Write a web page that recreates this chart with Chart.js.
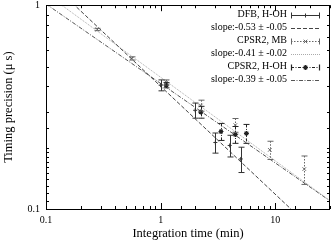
<!DOCTYPE html>
<html>
<head>
<meta charset="utf-8">
<script src="https://cdn.jsdelivr.net/npm/chart.js@4.4.0/dist/chart.umd.min.js"></script>
<style>
html, body { margin: 0; padding: 0; background: #fff; }
</style>
</head>
<body>
<canvas id="chart" width="331" height="242"></canvas>
<script>
const dfbTime = [1, 2, 3, 4, 5];
const dfbPrec = [0.405, 0.305, 0.212, 0.205, 0.176];
const dfbErr = [0.025, 0.026, 0.024, 0.025, 0.025];

const mbTime = [0.28, 0.56, 1.12, 2.24, 4.48, 8.96, 17.9];
const mbPrec = [0.76, 0.548, 0.418, 0.322, 0.258, 0.195, 0.157];
const mbErr = [0.01, 0.01, 0.012, 0.02, 0.02, 0.02, 0.025];

const hohTime = [1.12, 2.24, 3.36, 4.48, 5.6];
const hohPrec = [0.405, 0.299, 0.24, 0.232, 0.235];
const hohErr = [0.012, 0.02, 0.023, 0.022, 0.025];

// power-law fits: precision = amp * time^slope
const fitSlopes = [-0.53, -0.41, -0.39];
const fitAmps = [0.40, 0.443, 0.413];

const legendLabels = ['DFB, H-OH', 'slope:-0.53 \u00b1 -0.05', 'CPSR2, MB', 'slope:-0.41 \u00b1 -0.02', 'CPSR2, H-OH', 'slope:-0.39 \u00b1 -0.05'];

const xMin = 0.1, xMax = 30;
const serif = "'Liberation Serif', 'DejaVu Serif', serif";

function pts(xs, ys) {
    return xs.map((x, i) => ({ x: x, y: ys[i] }));
}
function fitLine(k) {
    return [xMin, xMax].map(x => ({ x: x, y: fitAmps[k] * Math.pow(x, fitSlopes[k]) }));
}
function isDecade(v) {
    const l = Math.log10(v);
    return Math.abs(l - Math.round(l)) < 1e-6;
}

const datasets = [
    { label: legendLabels[0], data: pts(dfbTime, dfbPrec), errors: dfbErr, barDash: [],
      showLine: false, pointStyle: 'cross', pointRadius: 2, borderColor: '#333', borderWidth: 1 },
    { label: legendLabels[1], data: fitLine(0), showLine: true, pointRadius: 0,
      borderColor: '#444', borderWidth: 1, borderDash: [4, 2] },
    { label: legendLabels[2], data: pts(mbTime, mbPrec), errors: mbErr, barDash: [1.5, 1.5],
      showLine: false, pointStyle: 'crossRot', pointRadius: 2.5, borderColor: '#666', borderWidth: 1 },
    { label: legendLabels[3], data: fitLine(1), showLine: true, pointRadius: 0,
      borderColor: '#aaa', borderWidth: 1, borderDash: [1, 1] },
    { label: legendLabels[4], data: pts(hohTime, hohPrec), errors: hohErr, barDash: [3, 1.5, 1, 1.5],
      showLine: false, pointStyle: 'star', pointRadius: 2.5, borderColor: '#222', borderWidth: 1.2 },
    { label: legendLabels[5], data: fitLine(2), showLine: true, pointRadius: 0,
      borderColor: '#555', borderWidth: 1, borderDash: [4, 1.5, 1, 1.5] }
];

// chart.js keeps a few px free on the right, the original plot runs to the edge
const stretchX = {
    id: 'stretchX',
    afterLayout(chart) {
        const s = chart.scales.x, a = chart.chartArea;
        const r = chart.width - 1;
        a.right = r;
        a.width = r - a.left;
        s.right = r;
        s.width = r - s.left;
        s.configure();
    }
};

// gnuplot style frame with inward ticks
const frameTicks = {
    id: 'frameTicks',
    afterDraw(chart) {
        const ctx = chart.ctx, a = chart.chartArea;
        const xs = chart.scales.x, ys = chart.scales.y;
        ctx.save();
        ctx.strokeStyle = '#000';
        ctx.lineWidth = 1;
        ctx.beginPath();
        xs.ticks.forEach(t => {
            const px = Math.round(xs.getPixelForValue(t.value)) + 0.5;
            const len = isDecade(t.value) ? 6 : 3;
            ctx.moveTo(px, a.bottom); ctx.lineTo(px, a.bottom - len);
            ctx.moveTo(px, a.top); ctx.lineTo(px, a.top + len);
        });
        ys.ticks.forEach(t => {
            const py = Math.round(ys.getPixelForValue(t.value)) + 0.5;
            const len = isDecade(t.value) ? 6 : 3;
            ctx.moveTo(a.left, py); ctx.lineTo(a.left + len, py);
            ctx.moveTo(a.right, py); ctx.lineTo(a.right - len, py);
        });
        ctx.stroke();
        ctx.strokeRect(Math.round(a.left) + 0.5, Math.round(a.top) + 0.5,
            Math.round(a.right - a.left) - 1, Math.round(a.bottom - a.top));
        ctx.restore();
    }
};

function drawSample(ctx, ds, x0, x1, y) {
    ctx.strokeStyle = ds.borderColor;
    ctx.lineWidth = ds.borderWidth;
    ctx.setLineDash(ds.errors ? ds.barDash : ds.borderDash);
    ctx.beginPath();
    ctx.moveTo(x0, y); ctx.lineTo(x1, y);
    ctx.stroke();
    if (ds.errors) {
        ctx.setLineDash([]);
        ctx.beginPath();
        ctx.moveTo(x0 + 0.5, y - 3); ctx.lineTo(x0 + 0.5, y + 3);
        ctx.moveTo(x1 - 0.5, y - 3); ctx.lineTo(x1 - 0.5, y + 3);
        ctx.stroke();
        Chart.helpers.drawPoint(ctx, { pointStyle: ds.pointStyle, radius: ds.pointRadius, rotation: 0, borderWidth: ds.borderWidth }, (x0 + x1) / 2, y);
    }
}

const errorBars = {
    id: 'errorBars',
    afterDatasetsDraw(chart) {
        const ctx = chart.ctx, a = chart.chartArea;
        const xs = chart.scales.x, ys = chart.scales.y;
        ctx.save();
        ctx.beginPath();
        ctx.rect(a.left, a.top, a.right - a.left, a.bottom - a.top);
        ctx.clip();
        chart.data.datasets.forEach(ds => {
            if (!ds.errors) return;
            ctx.strokeStyle = ds.borderColor;
            ctx.lineWidth = 1;
            ds.data.forEach((p, i) => {
                const px = Math.round(xs.getPixelForValue(p.x)) + 0.5;
                const top = ys.getPixelForValue(p.y + ds.errors[i]);
                const bot = ys.getPixelForValue(p.y - ds.errors[i]);
                ctx.setLineDash(ds.barDash);
                ctx.beginPath();
                ctx.moveTo(px, top); ctx.lineTo(px, bot);
                ctx.stroke();
                ctx.setLineDash([]);
                ctx.beginPath();
                ctx.moveTo(px - 3, top); ctx.lineTo(px + 3, top);
                ctx.moveTo(px - 3, bot); ctx.lineTo(px + 3, bot);
                ctx.stroke();
            });
        });
        ctx.restore();

        // key, top right, text left of the sample like gnuplot
        ctx.save();
        ctx.font = '10px ' + serif;
        ctx.fillStyle = '#000';
        ctx.textAlign = 'right';
        ctx.textBaseline = 'middle';
        chart.data.datasets.forEach((ds, i) => {
            const y = 14.5 + i * 13;
            ctx.fillText(ds.label, 287, y);
            drawSample(ctx, ds, 291, 320, Math.round(y) + 0.5);
        });
        ctx.restore();
    }
};

const logLabel = v => isDecade(v) ? String(v) : '';

new Chart(document.getElementById('chart').getContext('2d'), {
    type: 'scatter',
    data: { datasets: datasets },
    options: {
        responsive: false,
        animation: false,
        devicePixelRatio: 1,
        layout: { padding: { top: 5, right: 1, left: 0, bottom: 0 } },
        plugins: { legend: { display: false }, tooltip: { enabled: false } },
        scales: {
            x: {
                type: 'logarithmic',
                min: xMin,
                max: xMax,
                grid: { display: false, drawTicks: false },
                border: { display: false },
                ticks: { autoSkip: false, maxRotation: 0, padding: 5, color: '#000',
                    font: { family: serif, size: 10 }, callback: logLabel },
                title: { display: true, text: 'Integration time (min)', color: '#000',
                    font: { family: serif, size: 12.5 }, padding: { top: 0, bottom: 1 } },
                afterFit: s => { s.height = 33; }
            },
            y: {
                type: 'logarithmic',
                min: 0.1,
                max: 1,
                grid: { display: false, drawTicks: false },
                border: { display: false },
                ticks: { autoSkip: false, padding: 6, color: '#000',
                    font: { family: serif, size: 10 }, callback: logLabel },
                title: { display: true, text: 'Timing precision (\u03bc s)', color: '#000',
                    font: { family: serif, size: 12.5 }, padding: { top: 1.5, bottom: 0 } },
                afterFit: s => { s.width = 46; s.paddingTop = 0; s.paddingBottom = 0; }
            }
        }
    },
    plugins: [stretchX, errorBars, frameTicks]
});
</script>
</body>
</html>
